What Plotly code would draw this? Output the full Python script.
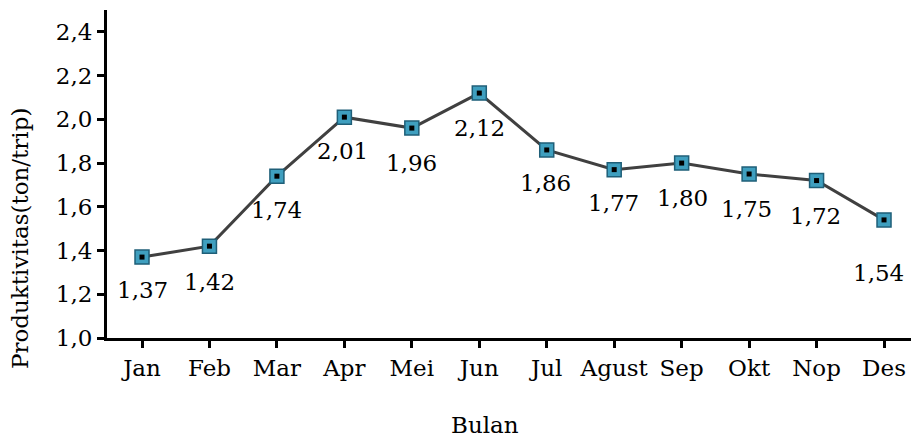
import plotly.graph_objects as go

months = ["Jan", "Feb", "Mar", "Apr", "Mei", "Jun", "Jul", "Agust", "Sep", "Okt", "Nop", "Des"]
productivity = [1.37, 1.42, 1.74, 2.01, 1.96, 2.12, 1.86, 1.77, 1.80, 1.75, 1.72, 1.54]
y_ticks = [1.0, 1.2, 1.4, 1.6, 1.8, 2.0, 2.2, 2.4]

# label offsets (px) relative to each point
label_dx = [0, 0, 0, -2, 0, 0, -1, -1, 1, -3, -1, -6]
label_dy = [-33, -36, -34, -34, -35, -35, -33, -33, -35, -35, -35, -53]

FONT = "DejaVu Serif"
FS = 23
fig = go.Figure()
fig.add_trace(go.Scatter(
    x=months, y=productivity, mode="lines+markers",
    line=dict(color="#404040", width=3),
    marker=dict(symbol="square", size=14, color="#3f9fbf",
                line=dict(color="#1f5f78", width=1.5)),
    showlegend=False, hoverinfo="skip"))
fig.add_trace(go.Scatter(
    x=months, y=productivity, mode="markers",
    marker=dict(symbol="square", size=5, color="black"),
    showlegend=False))

for m, v, dx, dy in zip(months, productivity, label_dx, label_dy):
    fig.add_annotation(x=m, y=v, text=f"{v:.2f}".replace(".", ","),
                       showarrow=False, xshift=dx, yshift=dy,
                       font=dict(family=FONT, size=FS, color="black"))

fig.add_annotation(text="Bulan", xref="paper", yref="paper",
                   x=(485 - 107) / 804, y=-(425 - 338) / 328,
                   xanchor="center", yanchor="middle",
                   showarrow=False, font=dict(family=FONT, size=FS, color="black"))
fig.add_annotation(text="Produktivitas(ton/trip)", xref="paper", yref="paper",
                   x=-(107 - 20) / 804, y=(338 - 239) / 328, textangle=-90,
                   xanchor="center", yanchor="middle",
                   showarrow=False, font=dict(family=FONT, size=FS, color="black"))

fig.update_layout(
    width=911, height=441,
    margin=dict(l=107, r=0, t=10, b=103),
    plot_bgcolor="white", paper_bgcolor="white",
    separators=",.",
    font=dict(family=FONT, size=FS, color="black"),
    xaxis=dict(range=[-0.519, 11.40], showline=True, linecolor="black", linewidth=3,
               ticks="outside", ticklen=7, tickwidth=3, tickcolor="black",
               showgrid=False, zeroline=False),
    yaxis=dict(range=[1.0, 2.5], tickvals=y_ticks, tickformat=".1f",
               showline=True, linecolor="black", linewidth=3,
               ticks="outside", ticklen=7, tickwidth=3, tickcolor="black",
               showgrid=False, zeroline=False),
)
fig.write_html("out.html", config={"displayModeBar": False},
               post_script="document.body.style.margin='0';document.body.style.overflow='hidden';")
